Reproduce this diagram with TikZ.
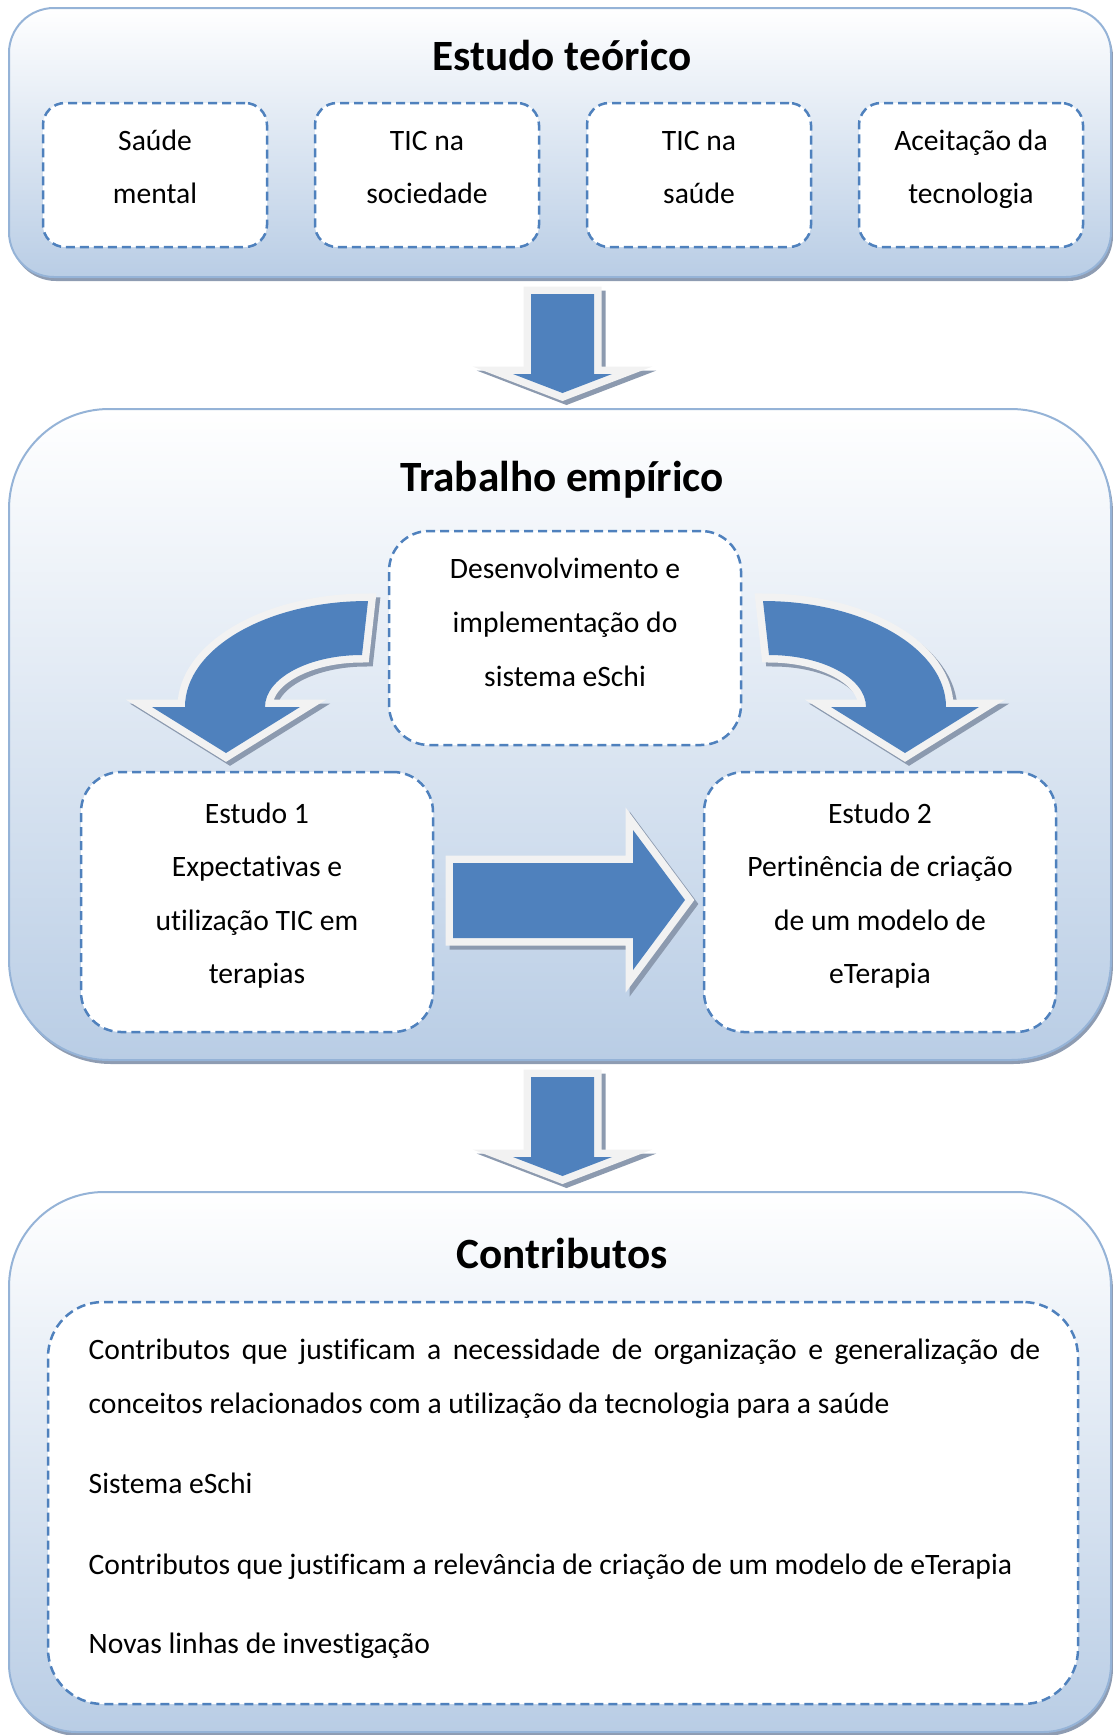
\documentclass[tikz,border=0pt]{standalone}
\usepackage{fontspec}
\setmainfont{Carlito}[Ligatures=NoCommon]
\definecolor{panelblue}{HTML}{B9CDE5}
\definecolor{panelline}{HTML}{95B3D7}
\definecolor{panelshadow}{HTML}{8E9CB2}
\definecolor{accent}{HTML}{4F81BD}
\definecolor{arrowrim}{HTML}{F2F2F2}
\definecolor{arrowshadow}{HTML}{8C9AAF}
\tikzset{
  panel/.style={top color=white, bottom color=panelblue, draw=panelline, line width=2pt,
    preaction={fill=panelshadow, transform canvas={shift={(2pt,-4pt)}}}},
  dbox/.style={draw=accent, fill=white, line width=2.5pt, dash pattern=on 9pt off 5pt,
    rounded corners=#1, inner sep=0pt},
  txt/.style={font=\fontsize{29.6}{35}\selectfont, inner sep=0pt, anchor=base},
  ttl/.style={font=\fontsize{43.2}{50}\selectfont\bfseries, inner sep=0pt, anchor=base},
  blockarrow/.style={fill=accent,
    preaction={fill=arrowshadow, draw=arrowshadow, line width=15pt, line join=miter, miter limit=10,
      transform canvas={shift={(4pt,-4pt)}}},
    preaction={draw=arrowrim, line width=15pt, line join=miter, miter limit=10}},
}
\begin{document}
\begin{tikzpicture}[x=1pt,y=-1pt]
\useasboundingbox (0,0) rectangle (1113,1735);

% panels
\path[panel, rounded corners=45pt] (9,8) rectangle (1111,277);
\path[panel, rounded corners=100pt] (9,409) rectangle (1111,1060);
\path[panel] (9,1450) [rounded corners=95pt] -- (9,1192) -- (1111,1192) -- (1111,1450)
   [rounded corners=68pt] -- (1111,1732) -- (9,1732) -- cycle;

% titles
\node[ttl] (t1) at (562,70.5) {Estudo teórico};
\node[ttl] (t2) at (562,491) {Trabalho empírico};
\node[ttl] (t3) at (562,1268) {Contributos};

% top boxes
\node[dbox=22pt, minimum width=224pt, minimum height=144pt] (b1) at (155,175) {};
\node[dbox=22pt, minimum width=224pt, minimum height=144pt] (b2) at (427,175) {};
\node[dbox=22pt, minimum width=224pt, minimum height=144pt] (b3) at (699,175) {};
\node[dbox=22pt, minimum width=224pt, minimum height=144pt] (b4) at (971,175) {};
\node[txt] (b1a) at (155,150) {Saúde};
\node[txt] (b1b) at (155,203) {mental};
\node[txt] (b2a) at (427,150) {TIC na};
\node[txt] (b2b) at (427,203) {sociedade};
\node[txt] (b3a) at (699,150) {TIC na};
\node[txt] (b3b) at (699,203) {saúde};
\node[txt] (b4a) at (971,150) {Aceitação da};
\node[txt] (b4b) at (971,203) {tecnologia};

% down arrows
\path[blockarrow] (531,294) -- (594,294) -- (594,374) -- (612,374) -- (562.5,393) -- (513,374) -- (531,374) -- cycle;
\path[blockarrow] (531,1077) -- (594,1077) -- (594,1157) -- (612,1157) -- (562.5,1176) -- (513,1157) -- (531,1157) -- cycle;

% curved arrows
\path[blockarrow] (368,601) .. controls (267,601) and (185,648.5) .. (185,707) -- (152,707) -- (226,753)
   -- (300,707) -- (265,707) .. controls (265,678.3) and (308.5,655) .. (362,655) -- cycle;
\begin{scope}[xshift=1131pt, xscale=-1]
\path[blockarrow] (368,601) .. controls (267,601) and (185,648.5) .. (185,707) -- (152,707) -- (226,753)
   -- (300,707) -- (265,707) .. controls (265,678.3) and (308.5,655) .. (362,655) -- cycle;
\end{scope}

% right arrow
\path[blockarrow] (453,863) -- (633,863) -- (633,830) -- (685,900) -- (633,970) -- (633,938) -- (453,938) -- cycle;

% middle boxes
\node[dbox=40pt, minimum width=352pt, minimum height=214pt] (dev) at (565,638) {};
\node[dbox=40pt, minimum width=352pt, minimum height=260pt] (e1) at (257,902) {};
\node[dbox=40pt, minimum width=352pt, minimum height=260pt] (e2) at (880,902) {};
\node[txt] (dva) at (565,578) {Desenvolvimento e};
\node[txt] (dvb) at (565,632) {implementação do};
\node[txt] (dvc) at (565,686) {sistema eSchi};
\node[txt] (e1a) at (257,823) {Estudo 1};
\node[txt] (e1b) at (257,876) {Expectativas e};
\node[txt] (e1c) at (257,930) {utilização TIC em};
\node[txt] (e1d) at (257,983) {terapias};
\node[txt] (e2a) at (880,823) {Estudo 2};
\node[txt] (e2b) at (880,876) {Pertinência de criação};
\node[txt] (e2c) at (880,930) {de um modelo de};
\node[txt] (e2d) at (880,983) {eTerapia};

% bottom box
\node[dbox=55pt, minimum width=1030pt, minimum height=402pt] (cb) at (563,1503) {};
\node[txt, anchor=base west] (c1) at (88.5,1359) {\makebox[951.5pt][s]{Contributos que justificam a necessidade de organização e generalização de}};
\node[txt, anchor=base west] (c2) at (88.5,1413) {conceitos relacionados com a utilização da tecnologia para a saúde};
\node[txt, anchor=base west] (c3) at (88.5,1493) {Sistema eSchi};
\node[txt, anchor=base west] (c4) at (88.5,1574) {Contributos que justificam a relevância de criação de um modelo de eTerapia};
\node[txt, anchor=base west] (c5) at (88.5,1653) {Novas linhas de investigação};
\end{tikzpicture}
\end{document}
